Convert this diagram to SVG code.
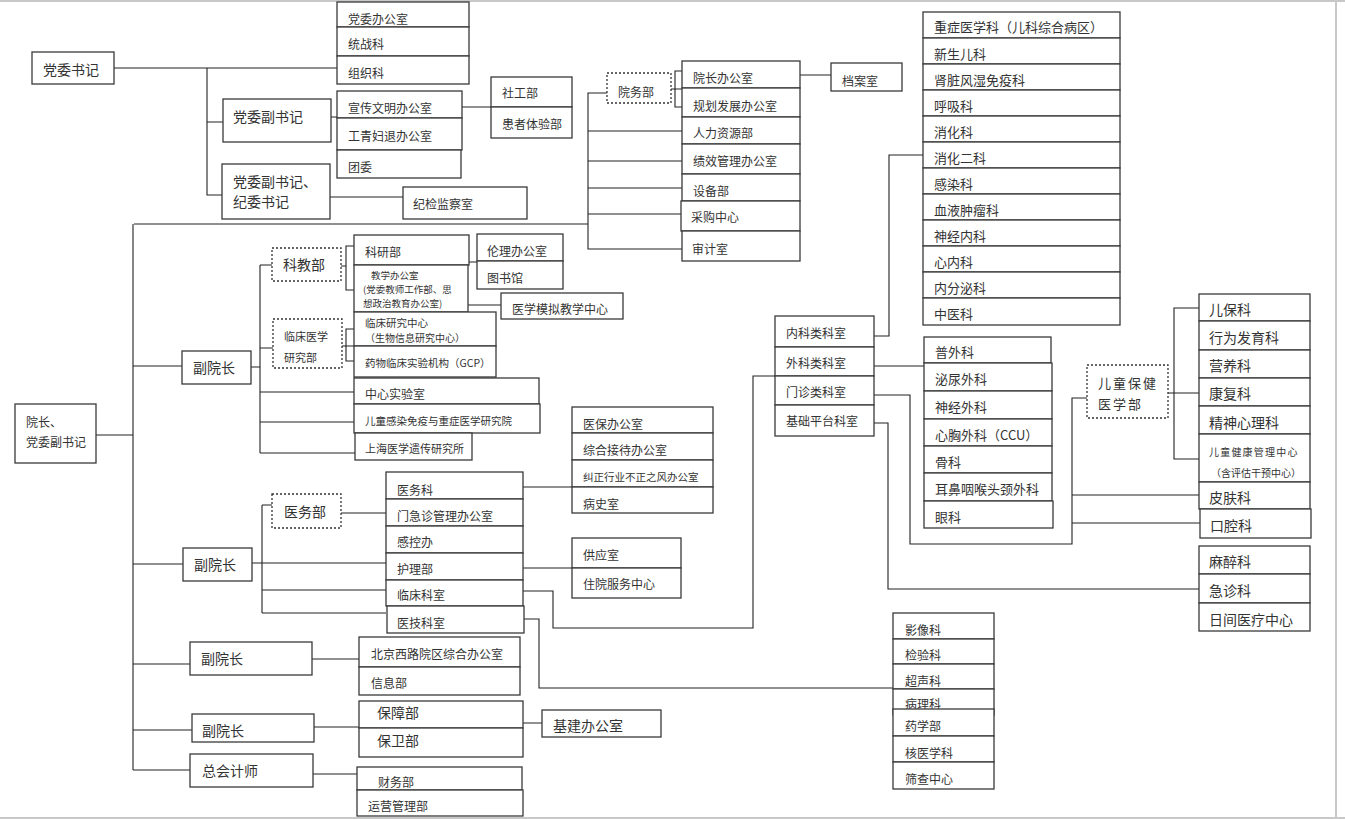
<svg xmlns="http://www.w3.org/2000/svg" width="1345" height="819" viewBox="0 0 1345 819">
<style>
.b{fill:#fff;stroke:#3a3a3a;stroke-width:1.3}
.d{fill:#fff;stroke:#333;stroke-width:1.3;stroke-dasharray:2 2}
.c{fill:none;stroke:#222;stroke-width:1.1}
.pg{fill:none;stroke:#c8c8c8;stroke-width:2}
text{font-family:"Noto Sans CJK SC","Liberation Serif",serif;fill:#333;dominant-baseline:central;font-size:12px}
.t14{font-size:14px}.t13{font-size:13px}.t11{font-size:11px}.t10{font-size:10.5px}.t9{font-size:10px}.t95{font-size:9.5px}
</style>
<rect width="1345" height="819" fill="#fff"/>
<path class="pg" d="M0 1H1345M0 818H1345M1336 0V819"/>
<g id="connectors">
<path class="c" d="M114 68H337M207 68V195H222M207 122H223M331 117H337M462 107H491M330 197H403"/>
<path class="c" d="M134 224H588M607 93H588V249H682M588 131H682M588 161H682M588 188H682M588 214H682"/>
<path class="c" d="M671 89H683M683 71H675V107H683M800 75H831"/>
<path class="c" d="M874 336H889V155H923M874 366H924M874 395H910V544H1072V398H1087M1072 495H1199M1072 523H1200"/>
<path class="c" d="M1168 393H1199M1199 308H1174V459H1199M874 423H888V589H1199"/>
<path class="c" d="M523 591H553V628H753V376H775M524 619H539V688H893"/>
<path class="c" d="M96 435H133M133 224V770"/>
<path class="c" d="M133 366H182M251 367H260M260 265V453M260 265H272M260 348H273M260 392H354M260 422H354M260 453H355"/>
<path class="c" d="M341 266H346M355 246H346V290H355M342 346H355M355 329H346V361H355M469 262H477M468 305H501"/>
<path class="c" d="M133 564H183M252 563H386M262 505V613M262 505H272M262 590H386M262 613H386M341 513H386M523 487H572M523 568H572"/>
<path class="c" d="M133 664H190M312 659H359M133 730H192M314 727H359M523 723H542M133 770H190M313 774H357"/>
</g>
<g id="n-dwsj"><rect class="b" x="32" y="52" width="82" height="32"/><text class="t14" x="43" y="69">党委书记</text></g>
<g id="n-dwfsj"><rect class="b" x="223" y="99" width="108" height="43"/><text class="t14" x="233" y="116">党委副书记</text></g>
<g id="n-dwfsj2"><rect class="b" x="222" y="164" width="108" height="55"/><text class="t14" x="233" y="181">党委副书记、</text><text class="t14" x="233" y="201">纪委书记</text></g>
<g id="n-dwbgs"><rect class="b" x="337" y="2" width="132" height="25"/><text x="348" y="18">党委办公室</text>
<rect class="b" x="337" y="27" width="132" height="29"/><text x="348" y="43">统战科</text>
<rect class="b" x="337" y="56" width="132" height="28"/><text x="348" y="72">组织科</text></g>
<g id="n-xcwm"><rect class="b" x="337" y="91" width="125" height="27"/><text x="348" y="107">宣传文明办公室</text>
<rect class="b" x="337" y="118" width="125" height="32"/><text x="348" y="135">工青妇退办公室</text>
<rect class="b" x="337" y="150" width="124" height="28"/><text x="348" y="166">团委</text></g>
<g id="n-sgb"><rect class="b" x="491" y="77" width="81" height="30"/><text x="502" y="92">社工部</text>
<rect class="b" x="491" y="107" width="81" height="31"/><text x="502" y="123">患者体验部</text></g>
<g id="n-jjjcs"><rect class="b" x="403" y="187" width="124" height="32"/><text x="413" y="203">纪检监察室</text></g>
<g id="n-ywb"><rect class="d" x="607" y="73" width="64" height="30"/><text x="618" y="91">院务部</text></g>
<g id="n-yzbgs"><rect class="b" x="682" y="61" width="118" height="27"/><text x="693" y="77">院长办公室</text>
<rect class="b" x="682" y="88" width="118" height="29"/><text x="693" y="105">规划发展办公室</text>
<rect class="b" x="682" y="117" width="118" height="27"/><text x="693" y="132">人力资源部</text>
<rect class="b" x="682" y="144" width="118" height="30"/><text x="693" y="160">绩效管理办公室</text>
<rect class="b" x="682" y="174" width="118" height="27"/><text x="693" y="190">设备部</text>
<rect class="b" x="681" y="201" width="119" height="30"/><text x="691" y="216">采购中心</text>
<rect class="b" x="682" y="231" width="118" height="30"/><text x="692" y="248">审计室</text></g>
<g id="n-das"><rect class="b" x="831" y="63" width="71" height="28"/><text x="842" y="80">档案室</text></g>
<g id="n-nkcol">
<rect class="b" x="923" y="12" width="197" height="26"/><text class="t13" x="934" y="26">重症医学科（儿科综合病区）</text>
<rect class="b" x="923" y="38" width="197" height="26"/><text class="t13" x="934" y="53">新生儿科</text>
<rect class="b" x="923" y="64" width="197" height="26"/><text class="t13" x="934" y="79">肾脏风湿免疫科</text>
<rect class="b" x="923" y="90" width="197" height="26"/><text class="t13" x="934" y="105">呼吸科</text>
<rect class="b" x="923" y="116" width="197" height="26"/><text class="t13" x="934" y="131">消化科</text>
<rect class="b" x="923" y="142" width="197" height="26"/><text class="t13" x="934" y="157">消化二科</text>
<rect class="b" x="923" y="168" width="197" height="26"/><text class="t13" x="934" y="183">感染科</text>
<rect class="b" x="923" y="194" width="197" height="26"/><text class="t13" x="934" y="209">血液肿瘤科</text>
<rect class="b" x="923" y="220" width="197" height="26"/><text class="t13" x="934" y="235">神经内科</text>
<rect class="b" x="923" y="246" width="197" height="26"/><text class="t13" x="934" y="261">心内科</text>
<rect class="b" x="923" y="272" width="197" height="26"/><text class="t13" x="934" y="287">内分泌科</text>
<rect class="b" x="923" y="298" width="197" height="27"/><text class="t13" x="934" y="313">中医科</text></g>
<g id="n-kslb"><rect class="b" x="775" y="316" width="99" height="31"/><text x="786" y="332">内科类科室</text>
<rect class="b" x="775" y="347" width="99" height="29"/><text x="786" y="362">外科类科室</text>
<rect class="b" x="775" y="376" width="99" height="29"/><text x="786" y="391">门诊类科室</text>
<rect class="b" x="775" y="405" width="99" height="31"/><text x="786" y="420">基础平台科室</text></g>
<g id="n-wkcol">
<rect class="b" x="924" y="337" width="127" height="26"/><text class="t13" x="935" y="351">普外科</text>
<rect class="b" x="924" y="363" width="128" height="28"/><text class="t13" x="935" y="378">泌尿外科</text>
<rect class="b" x="924" y="391" width="128" height="28"/><text class="t13" x="935" y="406">神经外科</text>
<rect class="b" x="924" y="419" width="128" height="27"/><text class="t13" x="935" y="434">心胸外科（CCU）</text>
<rect class="b" x="924" y="446" width="128" height="27"/><text class="t13" x="935" y="461">骨科</text>
<rect class="b" x="924" y="473" width="128" height="28"/><text class="t13" x="935" y="488">耳鼻咽喉头颈外科</text>
<rect class="b" x="924" y="501" width="129" height="27"/><text class="t13" x="935" y="516">眼科</text></g>
<g id="n-etbj"><rect class="d" x="1087" y="365" width="81" height="53"/><text class="t13" x="1098" y="382" letter-spacing="2">儿童保健</text><text class="t13" x="1098" y="403" letter-spacing="2">医学部</text></g>
<g id="n-ebk">
<rect class="b" x="1199" y="294" width="111" height="27"/><text class="t14" x="1209" y="309">儿保科</text>
<rect class="b" x="1199" y="321" width="111" height="29"/><text class="t14" x="1209" y="337">行为发育科</text>
<rect class="b" x="1199" y="350" width="111" height="28"/><text class="t14" x="1209" y="365">营养科</text>
<rect class="b" x="1199" y="378" width="111" height="28"/><text class="t14" x="1209" y="393">康复科</text>
<rect class="b" x="1199" y="406" width="111" height="28"/><text class="t14" x="1209" y="422">精神心理科</text>
<rect class="b" x="1199" y="434" width="111" height="48"/><text class="t9" x="1209" y="451" letter-spacing="1.2">儿童健康管理中心</text><text class="t9" x="1211" y="472">（含评估干预中心）</text>
<rect class="b" x="1199" y="482" width="111" height="27"/><text class="t14" x="1209" y="497">皮肤科</text>
<rect class="b" x="1200" y="509" width="111" height="29"/><text class="t14" x="1210" y="525">口腔科</text></g>
<g id="n-mzk">
<rect class="b" x="1199" y="546" width="111" height="28"/><text class="t14" x="1209" y="561">麻醉科</text>
<rect class="b" x="1199" y="574" width="111" height="29"/><text class="t14" x="1209" y="590">急诊科</text>
<rect class="b" x="1199" y="603" width="111" height="28"/><text class="t14" x="1209" y="619">日间医疗中心</text></g>
<g id="n-yz"><rect class="b" x="15" y="404" width="81" height="59"/><text x="26" y="421">院长、</text><text x="26" y="441">党委副书记</text></g>
<g id="n-fyz1"><rect class="b" x="182" y="351" width="69" height="33"/><text class="t14" x="193" y="367">副院长</text></g>
<g id="n-kjb"><rect class="d" x="272" y="248" width="69" height="33"/><text class="t14" x="283" y="264">科教部</text></g>
<g id="n-lcyx"><rect class="d" x="273" y="319" width="69" height="49"/><text class="t11" x="284" y="336">临床医学</text><text class="t11" x="284" y="357">研究部</text></g>
<g id="n-kyb"><rect class="b" x="354" y="235" width="115" height="30"/><text x="365" y="251">科研部</text>
<rect class="b" x="354" y="265" width="114" height="47"/><text class="t95" x="371" y="275">教学办公室</text><text class="t95" x="363" y="289">(党委教师工作部、思</text><text class="t95" x="363" y="303">想政治教育办公室)</text></g>
<g id="n-llbgs"><rect class="b" x="477" y="234" width="86" height="27"/><text x="487" y="250">伦理办公室</text>
<rect class="b" x="477" y="261" width="86" height="28"/><text x="487" y="277">图书馆</text></g>
<g id="n-yxmn"><rect class="b" x="501" y="293" width="122" height="26"/><text x="512" y="308">医学模拟教学中心</text></g>
<g id="n-lcyj"><rect class="b" x="354" y="312" width="142" height="34"/><text class="t10" x="365" y="322">临床研究中心</text><text class="t9" x="365" y="337">（生物信息研究中心）</text>
<rect class="b" x="354" y="346" width="142" height="31"/><text class="t10" x="365" y="362">药物临床实验机构（GCP）</text></g>
<g id="n-zxsys"><rect class="b" x="354" y="378" width="185" height="26"/><text x="365" y="393">中心实验室</text>
<rect class="b" x="354" y="404" width="186" height="29"/><text class="t10" x="365" y="420">儿童感染免疫与重症医学研究院</text></g>
<g id="n-shyx"><rect class="b" x="355" y="433" width="117" height="27"/><text class="t11" x="365" y="448">上海医学遗传研究所</text></g>
<g id="n-ybbgs"><rect class="b" x="572" y="407" width="141" height="26"/><text x="583" y="423">医保办公室</text>
<rect class="b" x="572" y="433" width="141" height="27"/><text x="583" y="449">综合接待办公室</text>
<rect class="b" x="572" y="460" width="141" height="27"/><text class="t10" x="583" y="476">纠正行业不正之风办公室</text>
<rect class="b" x="572" y="487" width="141" height="26"/><text x="583" y="503">病史室</text></g>
<g id="n-gys"><rect class="b" x="572" y="538" width="109" height="30"/><text x="583" y="554">供应室</text>
<rect class="b" x="572" y="568" width="109" height="30"/><text x="583" y="583">住院服务中心</text></g>
<g id="n-fyz2"><rect class="b" x="183" y="548" width="69" height="33"/><text class="t14" x="194" y="564">副院长</text></g>
<g id="n-ywb2"><rect class="d" x="272" y="494" width="69" height="34"/><text class="t14" x="284" y="511">医务部</text></g>
<g id="n-ywk"><rect class="b" x="386" y="472" width="137" height="27"/><text x="397" y="489">医务科</text>
<rect class="b" x="386" y="499" width="137" height="27"/><text x="397" y="515">门急诊管理办公室</text>
<rect class="b" x="386" y="526" width="137" height="27"/><text x="397" y="541">感控办</text>
<rect class="b" x="386" y="553" width="137" height="27"/><text x="397" y="568">护理部</text>
<rect class="b" x="386" y="580" width="137" height="26"/><text x="397" y="594">临床科室</text>
<rect class="b" x="387" y="606" width="137" height="27"/><text x="397" y="622">医技科室</text></g>
<g id="n-yxk">
<rect class="b" x="893" y="613" width="101" height="26"/><text x="905" y="629">影像科</text>
<rect class="b" x="893" y="639" width="101" height="25"/><text x="905" y="654">检验科</text>
<rect class="b" x="893" y="664" width="101" height="25"/><text x="905" y="680">超声科</text>
<rect class="b" x="893" y="689" width="101" height="26"/><text x="905" y="703">病理科</text>
<rect class="b" x="893" y="709" width="101" height="27"/><text x="905" y="725">药学部</text>
<rect class="b" x="893" y="736" width="101" height="26"/><text x="905" y="752">核医学科</text>
<rect class="b" x="893" y="762" width="101" height="27"/><text x="905" y="778">筛查中心</text></g>
<g id="n-fyz3"><rect class="b" x="190" y="642" width="122" height="33"/><text class="t14" x="201" y="658">副院长</text></g>
<g id="n-bjxl"><rect class="b" x="359" y="637" width="161" height="30"/><text x="371" y="653">北京西路院区综合办公室</text>
<rect class="b" x="359" y="667" width="161" height="28"/><text x="371" y="682">信息部</text></g>
<g id="n-fyz4"><rect class="b" x="192" y="714" width="122" height="28"/><text class="t14" x="202" y="730">副院长</text></g>
<g id="n-bzb"><rect class="b" x="359" y="701" width="164" height="27"/><text class="t14" x="377" y="712">保障部</text>
<rect class="b" x="359" y="728" width="164" height="29"/><text class="t14" x="377" y="740">保卫部</text></g>
<g id="n-jjbgs"><rect class="b" x="542" y="710" width="119" height="27"/><text class="t14" x="553" y="725">基建办公室</text></g>
<g id="n-zkjs"><rect class="b" x="190" y="754" width="123" height="33"/><text class="t14" x="202" y="770">总会计师</text></g>
<g id="n-cwb"><rect class="b" x="357" y="767" width="165" height="23"/><text x="378" y="781">财务部</text>
<rect class="b" x="357" y="790" width="166" height="26"/><text x="368" y="805">运营管理部</text></g>
</svg>
